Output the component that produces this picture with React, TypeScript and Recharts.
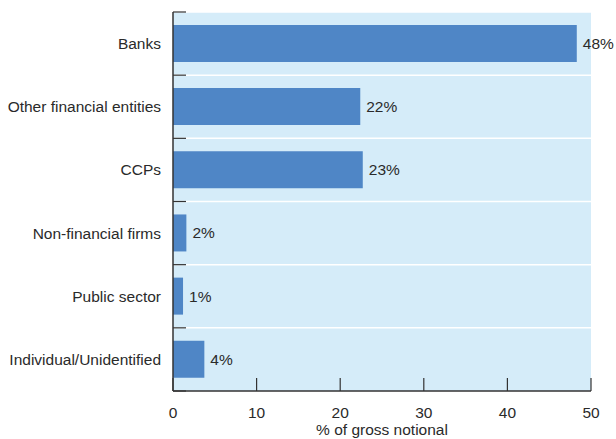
import React from "react";
import { BarChart, Bar, XAxis, YAxis, CartesianGrid, LabelList } from "recharts";

const categories = [
  "Banks",
  "Other financial entities",
  "CCPs",
  "Non-financial firms",
  "Public sector",
  "Individual/Unidentified",
];
const shares = [48.3, 22.4, 22.7, 1.6, 1.2, 3.75];
const shareLabels = ["48%", "22%", "23%", "2%", "1%", "4%"];
const xTicks = [0, 10, 20, 30, 40, 50];
const xTitle = "% of gross notional";

const data = categories.map((c, i) => ({ name: c, value: shares[i], label: shareLabels[i] }));

const W = 616;
const H = 439;
const MARGIN = { top: 12, right: 25, bottom: 0, left: 0 };
const Y_W = 173;
const X_H = 48;
const PLOT_H = H - MARGIN.top - MARGIN.bottom - X_H;
const BAND = PLOT_H / categories.length;
const AXIS_X = MARGIN.left + Y_W;
const AXIS_Y = MARGIN.top + PLOT_H;
const TICK_LEN = 13;
const FONT = "'Liberation Sans', Arial, sans-serif";
const FS = 15.5;
const TEXT = "#2a2a2a";
const AXIS = "#333333";

const YTick = (props: any) => {
  const { y, payload, index } = props;
  const isLast = index === categories.length - 1;
  return (
    <g>
      <text x={AXIS_X - 12} y={y} dy={5.5} textAnchor="end" fontSize={FS} fontFamily={FONT} fill={TEXT}>
        {payload.value}
      </text>
      <line x1={AXIS_X} x2={AXIS_X + TICK_LEN} y1={y - BAND / 2} y2={y - BAND / 2} stroke={AXIS} strokeWidth={1.2} />
      {isLast && (
        <line x1={AXIS_X} x2={AXIS_X + TICK_LEN} y1={y + BAND / 2} y2={y + BAND / 2} stroke={AXIS} strokeWidth={1.2} />
      )}
    </g>
  );
};

const XTick = (props: any) => {
  const { x, payload } = props;
  return (
    <g>
      <line x1={x} x2={x} y1={AXIS_Y} y2={AXIS_Y - TICK_LEN} stroke={AXIS} strokeWidth={1.2} />
      <text x={x} y={AXIS_Y + 27} textAnchor="middle" fontSize={FS} fontFamily={FONT} fill={TEXT}>
        {payload.value}
      </text>
    </g>
  );
};

export default function App() {
  return (
    <div style={{ position: "absolute", left: 0, top: 0, width: W, height: H, background: "#fff" }}>
      <BarChart
        width={W}
        height={H}
        data={data}
        layout="vertical"
        margin={MARGIN}
        barCategoryGap="20.5%"
      >
        <CartesianGrid
          vertical={false}
          fill="#d5ecf9"
          stroke="#ffffff"
          strokeWidth={1.5}
          horizontalCoordinatesGenerator={({ offset }: any) =>
            categories.map((_, i) => offset.top + (i * offset.height) / categories.length)
          }
        />
        <XAxis
          type="number"
          domain={[0, 50]}
          ticks={xTicks}
          height={X_H}
          tickLine={false}
          axisLine={{ stroke: AXIS, strokeWidth: 1.5 }}
          tick={<XTick />}
          interval={0}
          label={{
            value: xTitle,
            position: "insideBottom",
            offset: 4,
            fontSize: FS,
            fontFamily: FONT,
            fill: TEXT,
          }}
        />
        <YAxis
          type="category"
          dataKey="name"
          width={Y_W}
          tickLine={false}
          axisLine={{ stroke: AXIS, strokeWidth: 1.5 }}
          tick={<YTick />}
          interval={0}
        />
        <Bar dataKey="value" fill="#4f86c6" isAnimationActive={false}>
          <LabelList
            dataKey="label"
            position="right"
            offset={6}
            fontSize={FS}
            fontFamily={FONT}
            fill={TEXT}
          />
        </Bar>
      </BarChart>
    </div>
  );
}
